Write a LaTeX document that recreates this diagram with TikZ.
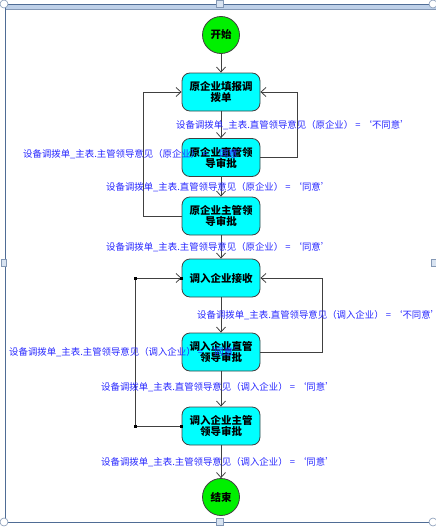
\documentclass[tikz,border=0pt]{standalone}
\usepackage{fontspec}
\newfontfamily\cjk{Noto Sans CJK SC}
\usetikzlibrary{arrows.meta,positioning}
\definecolor{framec}{RGB}{79,108,149}
\definecolor{bandc}{RGB}{190,208,232}
\definecolor{linec}{RGB}{64,64,64}
\definecolor{labc}{RGB}{40,40,255}
\definecolor{boxc}{RGB}{0,255,255}
\definecolor{endc}{RGB}{0,240,0}
\tikzset{
  stepbox/.style={draw=linec, line width=0.8pt, fill=boxc, rounded corners=8pt,
    minimum width=78pt, minimum height=38pt, inner sep=1pt, align=center,
    font=\cjk\bfseries\fontsize{10.5}{11}\selectfont},
  endpt/.style={circle, draw=linec, line width=0.8pt, fill=endc, minimum size=37pt,
    inner sep=0pt, font=\cjk\bfseries\fontsize{10.5}{11}\selectfont},
  arr/.style={draw=linec, line width=0.8pt, -{Straight Barb[length=5pt,width=9pt]}},
  lab/.style={anchor=west, text=labc, inner sep=0pt, font=\cjk\fontsize{9.4}{10}\selectfont},
  handle/.style={draw=framec!70, fill=white, line width=0.6pt},
  sqh/.style={draw=framec!70, fill=bandc!60, line width=0.6pt},
  dot/.style={fill=black, minimum size=3pt, inner sep=0pt}
}
\begin{document}
\begin{tikzpicture}[x=1pt,y=-1pt]
\useasboundingbox (0,0) rectangle (436,527);
% frame
\fill[bandc] (5,4) rectangle (436,9);
\draw[framec, line width=0.8pt] (5,4.5) -- (436,4.5);
\draw[framec!70, line width=0.5pt] (5,9) -- (436,9);
\draw[framec, line width=0.8pt] (5.5,4) -- (5.5,522);
\draw[framec, line width=0.8pt] (5,522) -- (436,522);
\draw[handle] (4,4) circle (4);
\draw[handle] (433,4) circle (4);
\draw[handle] (4,522) circle (4);
\draw[handle] (433,522) circle (4);
\draw[sqh] (216.5,0.5) rectangle (223.5,7.5);
\draw[sqh] (216.5,518.5) rectangle (223.5,525.5);
\draw[sqh] (1.5,259.5) rectangle (6.5,266.5);
\draw[sqh] (431.5,259.5) rectangle (436.5,266.5);
% nodes
\node[endpt] (s) at (221,35) {开始};
\node[stepbox] (b1) at (221,92) {原企业填报调\\拨单};
\node[stepbox] (b2) at (221,157.5) {原企业直管领\\导审批};
\node[stepbox] (b3) at (221,216) {原企业主管领\\导审批};
\node[stepbox] (b4) at (221,278) {调入企业接收};
\node[stepbox] (b5) at (221,352) {调入企业直管\\领导审批};
\node[stepbox] (b6) at (221,426) {调入企业主管\\领导审批};
\node[endpt] (e) at (221,497) {结束};
% main flow
\draw[arr] (s) -- (b1);
\draw[arr] (b1) -- (b2);
\draw[arr] (b2) -- (b3);
\draw[arr] (b3) -- (b4);
\draw[arr] (b4) -- (b5);
\draw[arr] (b5) -- (b6);
\draw[arr] (b6) -- (e);
% loops
\draw[arr] (b2.east) -- ++(37,0) |- (b1.east);
\draw[arr] (b3.west) -- ++(-38,0) |- (b1.west);
\draw[arr] (b5.east) -- ++(62,0) |- (b4.east);
\coordinate (c1) at (135,426);
\coordinate (c2) at (135,278);
\draw[arr] (b6.west) -- (c1) -- (c2) -- (b4.west);
\node[dot] at (c1) {};
\node[dot] at (c2) {};
\node[dot] at (b6.west) {};
\node[dot] at (b4.west) {};
% labels
\node[lab] (l1) at (176,125) {设备调拨单\_主表.直管领导意见（原企业） = ‘不同意’};
\node[lab] (l2) at (23,154) {设备调拨单\_主表.主管领导意见（原企业） = ‘同意’};
\node[lab] (l3) at (106,187) {设备调拨单\_主表.直管领导意见（原企业） = ‘同意’};
\node[lab] (l4) at (106,247) {设备调拨单\_主表.主管领导意见（原企业） = ‘同意’};
\node[lab] (l5) at (197,315) {设备调拨单\_主表.直管领导意见（调入企业） = ‘不同意’};
\node[lab] (l6) at (9,352) {设备调拨单\_主表.主管领导意见（调入企业） = ‘同意’};
\node[lab] (l7) at (101,387) {设备调拨单\_主表.直管领导意见（调入企业） = ‘同意’};
\node[lab] (l8) at (101,462) {设备调拨单\_主表.主管领导意见（调入企业） = ‘同意’};
\end{tikzpicture}
\end{document}
